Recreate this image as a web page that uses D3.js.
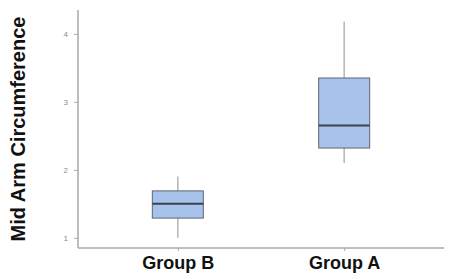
<!DOCTYPE html>
<html>
<head>
<meta charset="utf-8">
<script src="https://cdn.jsdelivr.net/npm/d3@7"></script>
<style>
  body { margin: 0; background: #fff; }
</style>
</head>
<body>
<script>
// box plot values
const groups = ["Group B", "Group A"];
const mins = [1.0, 2.1];
const q1s = [1.29, 2.32];
const medians = [1.5, 2.65];
const q3s = [1.69, 3.35];
const maxs = [1.9, 4.18];
const yTicks = [1, 2, 3, 4];

const width = 450, height = 279;
const margin = { top: 10, right: 6, bottom: 31, left: 78 };

const svg = d3.select("body").append("svg")
    .attr("width", width)
    .attr("height", height);

const x = d3.scalePoint()
    .domain(groups)
    .range([margin.left, width - margin.right])
    .padding(0.6);

const y = d3.scaleLinear()
    .domain([0.85, 4.35])
    .range([height - margin.bottom, margin.top]);

const data = groups.map((g, i) => ({
    group: g, min: mins[i], q1: q1s[i], median: medians[i], q3: q3s[i], max: maxs[i]
}));

const boxW = 51;

// whiskers
svg.selectAll(".whisker")
    .data(data)
    .enter().append("line")
    .attr("x1", d => x(d.group))
    .attr("x2", d => x(d.group))
    .attr("y1", d => y(d.min))
    .attr("y2", d => y(d.max))
    .attr("stroke", "#b5b5b5")
    .attr("stroke-width", 1.5);

// boxes
svg.selectAll(".box")
    .data(data)
    .enter().append("rect")
    .attr("x", d => x(d.group) - boxW / 2)
    .attr("y", d => y(d.q3))
    .attr("width", boxW)
    .attr("height", d => y(d.q1) - y(d.q3))
    .attr("fill", "#a7c3ec")
    .attr("stroke", "#5f6570")
    .attr("stroke-width", 1);

// medians
svg.selectAll(".median")
    .data(data)
    .enter().append("line")
    .attr("x1", d => x(d.group) - boxW / 2)
    .attr("x2", d => x(d.group) + boxW / 2)
    .attr("y1", d => y(d.median))
    .attr("y2", d => y(d.median))
    .attr("stroke", "#3c414b")
    .attr("stroke-width", 2);

// y axis
const yAxis = svg.append("g")
    .attr("transform", `translate(${margin.left},0)`)
    .call(d3.axisLeft(y).tickValues(yTicks).tickFormat(d3.format("d"))
        .tickSize(4).tickPadding(6).tickSizeOuter(0));
yAxis.select(".domain").attr("stroke", "#a8a8a8").attr("stroke-width", 1.5)
    .attr("d", `M0,${margin.top}V${height - margin.bottom}`);
yAxis.selectAll(".tick line").attr("stroke", "#a8a8a8");
yAxis.selectAll(".tick text")
    .attr("fill", "#8c8c8c")
    .style("font-family", "Arial, 'Liberation Sans', sans-serif")
    .style("font-size", "8px");

// x axis
const xAxis = svg.append("g")
    .attr("transform", `translate(0,${height - margin.bottom})`)
    .call(d3.axisBottom(x).tickSize(3).tickPadding(5).tickSizeOuter(0));
xAxis.select(".domain").attr("stroke", "#a8a8a8").attr("stroke-width", 1.5)
    .attr("d", `M${margin.left},0H${width - 6}`);
xAxis.selectAll(".tick line").attr("stroke", "#a8a8a8");
xAxis.selectAll(".tick text")
    .attr("fill", "#111")
    .style("font-family", "Arial, 'Liberation Sans', sans-serif")
    .style("font-weight", "bold")
    .style("font-size", "18px");

// y title
svg.append("text")
    .attr("transform", "translate(25,129) rotate(-90)")
    .attr("text-anchor", "middle")
    .style("font-family", "Arial, 'Liberation Sans', sans-serif")
    .style("font-weight", "bold")
    .style("font-size", "20px")
    .attr("fill", "#111")
    .text("Mid Arm Circumference");
</script>
</body>
</html>
